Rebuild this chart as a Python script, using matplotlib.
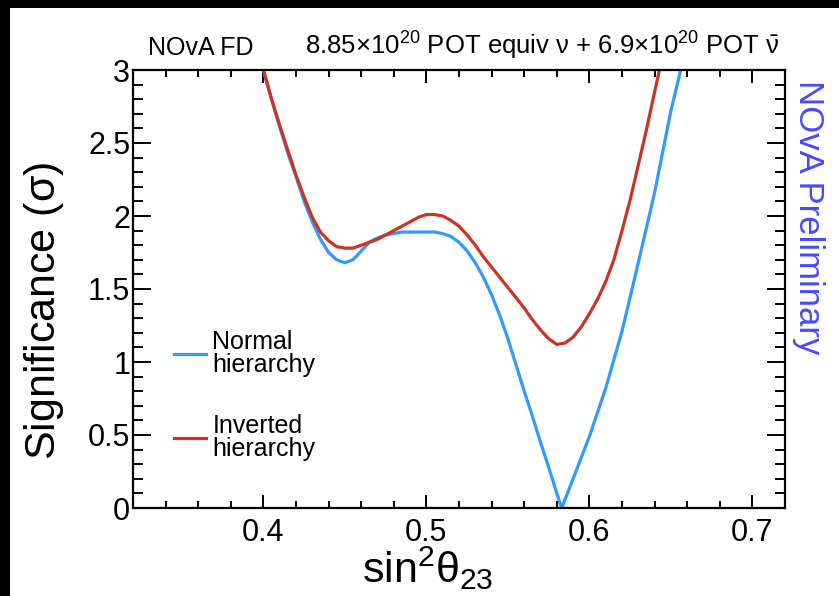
import matplotlib

matplotlib.use("Agg")

import matplotlib.pyplot as plt
from matplotlib.patches import Rectangle
from matplotlib.ticker import MultipleLocator

# sin^2(theta_23) scan, significance in sigma
sin2_nh = [0.400, 0.405, 0.410, 0.415, 0.420, 0.425, 0.430, 0.435, 0.440, 0.445,
           0.450, 0.455, 0.460, 0.465, 0.470, 0.475, 0.480, 0.485, 0.490, 0.495,
           0.500, 0.505, 0.510, 0.515, 0.520, 0.525, 0.530, 0.535, 0.540, 0.545,
           0.550, 0.555, 0.560, 0.565, 0.570, 0.575, 0.580, 0.583, 0.590, 0.600,
           0.610, 0.620, 0.630, 0.640, 0.650, 0.656]
sig_nh = [3.00, 2.80, 2.61, 2.43, 2.27, 2.10, 1.96, 1.84, 1.75, 1.70,
          1.68, 1.70, 1.76, 1.82, 1.85, 1.87, 1.88, 1.89, 1.89, 1.89,
          1.89, 1.89, 1.88, 1.86, 1.82, 1.76, 1.68, 1.58, 1.46, 1.32,
          1.16, 0.98, 0.80, 0.63, 0.45, 0.28, 0.10, 0.00, 0.20, 0.49,
          0.82, 1.21, 1.68, 2.16, 2.72, 3.00]

sin2_ih = [0.400, 0.405, 0.410, 0.415, 0.420, 0.425, 0.430, 0.435, 0.440, 0.445,
           0.450, 0.455, 0.460, 0.465, 0.470, 0.475, 0.480, 0.485, 0.490, 0.495,
           0.500, 0.505, 0.510, 0.515, 0.520, 0.525, 0.530, 0.535, 0.540, 0.545,
           0.550, 0.555, 0.560, 0.565, 0.570, 0.575, 0.580, 0.585, 0.590, 0.595,
           0.600, 0.605, 0.610, 0.615, 0.620, 0.625, 0.630, 0.635, 0.640, 0.643]
sig_ih = [3.00, 2.80, 2.62, 2.45, 2.28, 2.13, 1.99, 1.89, 1.83, 1.79,
          1.78, 1.78, 1.80, 1.82, 1.84, 1.87, 1.90, 1.93, 1.96, 1.99,
          2.01, 2.01, 2.00, 1.97, 1.93, 1.87, 1.80, 1.72, 1.65, 1.58,
          1.51, 1.44, 1.37, 1.29, 1.22, 1.16, 1.12, 1.13, 1.17, 1.24,
          1.33, 1.43, 1.55, 1.70, 1.90, 2.11, 2.35, 2.59, 2.85, 3.00]

labels = ["Normal\nhierarchy", "Inverted\nhierarchy"]
colors = ["#3399ff", "#cc3322"]

plt.rcParams["font.family"] = ["Liberation Sans", "DejaVu Sans"]
plt.rcParams["mathtext.fontset"] = "custom"
plt.rcParams["mathtext.rm"] = "Liberation Sans"
plt.rcParams["mathtext.it"] = "Liberation Sans"
plt.rcParams["mathtext.bf"] = "Liberation Sans:bold"

W, H = 839, 596
fig = plt.figure(figsize=(W / 100, H / 100), dpi=100)
fig.patch.set_facecolor("white")

# dark frame from the screenshot (top and left edges)
fig.patches.append(Rectangle((0, 1 - 8 / H), 1, 8 / H, transform=fig.transFigure,
                             facecolor="black", edgecolor="none", zorder=0))
fig.patches.append(Rectangle((0, 0), 10 / W, 1, transform=fig.transFigure,
                             facecolor="black", edgecolor="none", zorder=0))

ax = fig.add_axes([133 / W, (H - 508) / H, (785 - 133) / W, (508 - 70) / H])

ax.plot(sin2_nh, sig_nh, color=colors[0], lw=2.3, label=labels[0])
ax.plot(sin2_ih, sig_ih, color=colors[1], lw=2.3, label=labels[1])

ax.set_xlim(0.32, 0.72)
ax.set_ylim(0, 3)
ax.xaxis.set_minor_locator(MultipleLocator(0.02))
ax.yaxis.set_minor_locator(MultipleLocator(0.1))
ax.set_xticks([0.4, 0.5, 0.6, 0.7])
ax.set_xticklabels(["0.4", "0.5", "0.6", "0.7"])
ax.set_yticks([0, 0.5, 1, 1.5, 2, 2.5, 3])
ax.set_yticklabels(["0", "0.5", "1", "1.5", "2", "2.5", "3"])

for side in ax.spines.values():
    side.set_linewidth(1.6)
ax.tick_params(which="both", direction="in", top=True, right=True,
               width=1.4, labelsize=22, colors="black")
ax.tick_params(axis="x", which="major", length=9.5, pad=7)
ax.tick_params(axis="x", which="minor", length=5)
ax.tick_params(axis="y", which="major", length=13, pad=2)
ax.tick_params(axis="y", which="minor", length=7)

ax.set_xlabel(r"sin$^{2}\theta_{23}$", fontsize=31)
ax.set_ylabel(r"Significance ($\sigma$)", fontsize=31)
ax.xaxis.set_label_coords(0.452, -0.085)
ax.yaxis.set_label_coords(-0.103, 0.45)

leg = ax.legend(loc="upper left", bbox_to_anchor=(0.047, 0.43), frameon=False,
                fontsize=18, handlelength=1.3, handletextpad=0.25,
                labelspacing=1.5, borderaxespad=0)
for t in leg.get_texts():
    t.set_linespacing(0.95)

fig.text(148 / W, 1 - 55 / H, "NOvA FD", fontsize=18, va="baseline", ha="left")
fig.text(305 / W, 1 - 55 / H,
         r"8.85$\times$10$^{20}$ POT equiv $\nu$ + 6.9$\times$10$^{20}$ POT $\bar{\nu}$",
         fontsize=18.5, va="baseline", ha="left")
fig.text(808 / W, 1 - 80 / H, "NOvA Preliminary", fontsize=25, color="#4848ff",
         rotation=-90, ha="center", va="top")

fig.savefig("out.png", dpi=100)
